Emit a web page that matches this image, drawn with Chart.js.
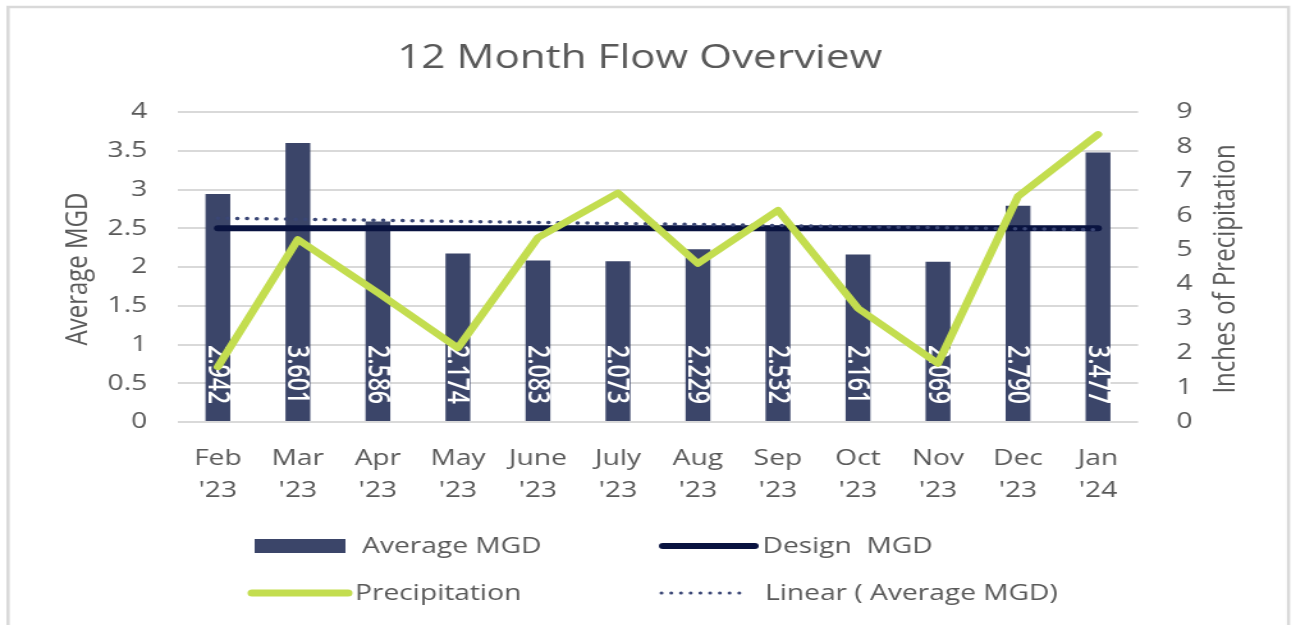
<!DOCTYPE html>
<html>
<head>
<meta charset="utf-8">
<title>12 Month Flow Overview</title>
<script src="https://cdn.jsdelivr.net/npm/chart.js@4.4.1/dist/chart.umd.min.js"></script>
<style>
  html, body { margin: 0; padding: 0; background: #fff; overflow: hidden; }
  /* the source picture is stretched sideways, so the canvas is too */
  #flowChart { display: block; transform: scaleX(1.2794); transform-origin: 0 0; }
</style>
</head>
<body>
<canvas id="flowChart" width="1013" height="625"></canvas>
<script>
// --- Data ---
const months = [
    ['Feb', "'23"], ['Mar', "'23"], ['Apr', "'23"], ['May', "'23"],
    ['June', "'23"], ['July', "'23"], ['Aug', "'23"], ['Sep', "'23"],
    ['Oct', "'23"], ['Nov', "'23"], ['Dec', "'23"], ['Jan', "'24"]
];
const avgMgd = [2.942, 3.601, 2.586, 2.174, 2.083, 2.073, 2.229, 2.532, 2.161, 2.069, 2.790, 3.477];
const designMgd = [2.5, 2.5, 2.5, 2.5, 2.5, 2.5, 2.5, 2.5, 2.5, 2.5, 2.5, 2.5];
const precipitation = [1.6, 5.3, 3.75, 2.15, 5.35, 6.65, 4.6, 6.15, 3.3, 1.7, 6.55, 8.35];
// trendline: first and last month only
const trendMgd = [2.63, null, null, null, null, null, null, null, null, null, null, 2.48];

const FONT = "'Open Sans', 'Liberation Sans', sans-serif";
const TEXT_COLOR = '#595959';

// --- Extra drawing: frame, title, axis titles, bar labels, legend ---
const decorPlugin = {
    id: 'decor',
    beforeDraw(chart) {
        const ctx = chart.ctx;
        ctx.save();
        ctx.fillStyle = '#ffffff';
        ctx.fillRect(0, 0, chart.width, chart.height);
        ctx.strokeStyle = '#d9d9d9';
        ctx.lineWidth = 2.5;
        ctx.strokeRect(6.3, 7, 1000.8, 660);
        ctx.restore();
    },
    afterDatasetDraw(chart, args) {
        if (args.index !== 0) return;
        const ctx = chart.ctx;
        const meta = chart.getDatasetMeta(0);
        ctx.save();
        ctx.fillStyle = '#ffffff';
        ctx.font = '600 23px ' + FONT;
        ctx.textAlign = 'right';
        ctx.textBaseline = 'middle';
        meta.data.forEach((bar, i) => {
            ctx.save();
            ctx.translate(bar.x, bar.base - 17);
            ctx.rotate(Math.PI / 2);
            ctx.fillText(avgMgd[i].toFixed(3), 0, 1);
            ctx.restore();
        });
        ctx.restore();
    },
    afterDraw(chart) {
        const ctx = chart.ctx;
        const area = chart.chartArea;
        const midY = (area.top + area.bottom) / 2 + 2;
        ctx.save();
        ctx.fillStyle = TEXT_COLOR;
        ctx.textBaseline = 'middle';

        // title
        ctx.textAlign = 'center';
        ctx.font = '33px ' + FONT;
        ctx.fillText('12 Month Flow Overview', 500, 59);

        // axis titles
        ctx.font = '24px ' + FONT;
        ctx.save();
        ctx.translate(61.5, midY);
        ctx.rotate(-Math.PI / 2);
        ctx.fillText('Average MGD', 0, 0);
        ctx.restore();
        ctx.save();
        ctx.translate(958, midY);
        ctx.rotate(-Math.PI / 2);
        ctx.fillText('Inches of Precipitation', 0, 0);
        ctx.restore();

        // legend (2 x 2)
        const ds = chart.data.datasets;
        ctx.font = '22px ' + FONT;
        ctx.textAlign = 'left';
        ctx.lineCap = 'round';

        ctx.fillStyle = ds[0].backgroundColor;
        ctx.fillRect(199, 539, 71, 14);
        ctx.fillStyle = TEXT_COLOR;
        ctx.fillText(ds[0].label, 283, 547);

        ctx.strokeStyle = ds[1].borderColor;
        ctx.lineWidth = 6;
        ctx.beginPath(); ctx.moveTo(518, 546); ctx.lineTo(590, 546); ctx.stroke();
        ctx.fillText(ds[1].label, 596, 547);

        ctx.strokeStyle = ds[2].borderColor;
        ctx.lineWidth = 7;
        ctx.beginPath(); ctx.moveTo(197, 593); ctx.lineTo(272, 593); ctx.stroke();
        ctx.fillText(ds[2].label, 277.5, 594);

        ctx.strokeStyle = ds[3].borderColor;
        ctx.lineWidth = 3;
        ctx.setLineDash(ds[3].borderDash);
        ctx.beginPath(); ctx.moveTo(517, 593); ctx.lineTo(583, 593); ctx.stroke();
        ctx.setLineDash([]);
        ctx.fillText(ds[3].label, 598, 594);

        ctx.restore();
    }
};

// --- Chart ---
new Chart(document.getElementById('flowChart'), {
    data: {
        labels: months,
        datasets: [
            {
                type: 'bar', label: 'Average MGD', data: avgMgd, yAxisID: 'y',
                backgroundColor: '#3b4569', barPercentage: 0.31, categoryPercentage: 1, order: 3
            },
            {
                type: 'line', label: 'Design  MGD', data: designMgd, yAxisID: 'y',
                borderColor: '#091340', borderWidth: 6, borderCapStyle: 'round',
                pointRadius: 0, order: 2
            },
            {
                type: 'line', label: 'Precipitation', data: precipitation, yAxisID: 'y1',
                borderColor: '#c3dd4f', borderWidth: 6.5, borderCapStyle: 'round', borderJoinStyle: 'round',
                pointRadius: 0, tension: 0, order: 0
            },
            {
                type: 'line', label: 'Linear ( Average MGD)', data: trendMgd, yAxisID: 'y',
                borderColor: '#3a4675', borderWidth: 3.5, borderDash: [0.1, 7.5], borderCapStyle: 'round',
                spanGaps: true, pointRadius: 0, order: 1
            }
        ]
    },
    options: {
        responsive: false,
        animation: false,
        devicePixelRatio: 1,
        layout: { padding: { top: 112, left: 0, right: 0, bottom: 0 } },
        plugins: {
            legend: { display: false },
            title: { display: false },
            tooltip: { enabled: false }
        },
        scales: {
            x: {
                grid: { display: false, drawTicks: false },
                border: { display: false },
                ticks: {
                    color: TEXT_COLOR, padding: 21, maxRotation: 0, autoSkip: false,
                    font: { family: FONT, size: 22, lineHeight: 1.45 }
                },
                afterFit: (scale) => { scale.height = 203; }
            },
            y: {
                position: 'left', min: 0, max: 4,
                ticks: {
                    stepSize: 0.5, color: TEXT_COLOR, padding: 24, font: { family: FONT, size: 22 },
                    callback: (value) => String(value)
                },
                grid: { color: '#d9d9d9', lineWidth: 2, drawTicks: false },
                border: { display: false },
                afterFit: (scale) => { scale.width = 139; }
            },
            y1: {
                position: 'right', min: 0, max: 9,
                ticks: { stepSize: 1, color: TEXT_COLOR, padding: 30, font: { family: FONT, size: 22 } },
                grid: { display: false, drawTicks: false },
                border: { display: false },
                afterFit: (scale) => { scale.width = 123.5; }
            }
        }
    },
    plugins: [decorPlugin]
});
</script>
</body>
</html>
